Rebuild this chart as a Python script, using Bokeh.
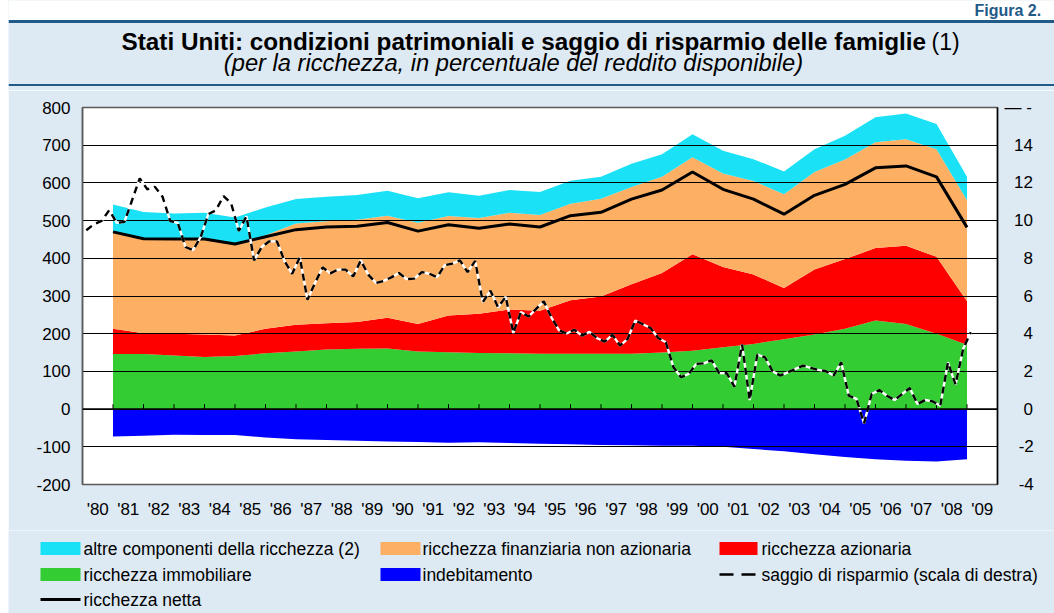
from bokeh.plotting import figure
from bokeh.layouts import column, row
from bokeh.models import (Range1d, LinearAxis, FixedTicker, ColumnDataSource, Span, Spacer)
from bokeh.core.properties import value
from bokeh.embed import file_html
from bokeh.resources import INLINE

# ---------------- data ----------------
years = list(range(1980, 2009))  # end-of-year observations
immobiliare = [146, 146, 142, 138, 141, 148, 153, 158, 160, 161, 153, 151, 149, 148, 147,
               147, 147, 147, 150, 155, 164, 173, 185, 198, 213, 235, 226, 200, 171]
azionaria = [67, 55, 58, 60, 54, 65, 71, 70, 71, 81, 73, 97, 104, 116, 114,
             142, 152, 184, 211, 256, 213, 184, 136, 172, 185, 192, 207, 204, 115]
fin_non_azionaria = [255, 249, 249, 252, 241, 248, 268, 270, 271, 271, 268, 264, 254, 257, 254,
                     256, 259, 258, 255, 257, 248, 248, 249, 259, 264, 281, 283, 285, 268]
altre_componenti = [75, 73, 70, 71, 72, 74, 65, 65, 66, 66, 65, 63, 59, 60, 61,
                    61, 58, 62, 60, 61, 60, 58, 60, 60, 63, 66, 68, 67, 62]
indebitamento = [-73, -71, -68, -69, -69, -75, -80, -82, -84, -86, -87, -89, -88, -90, -92,
                 -93, -95, -96, -97, -97, -100, -106, -112, -120, -127, -133, -137, -139, -133]
ricchezza_netta = [470, 452, 451, 451, 438, 457, 476, 483, 485, 495, 472, 489, 480, 491, 483,
                   513, 522, 557, 581, 629, 583, 557, 517, 567, 596, 640, 645, 616, 482]

# quarterly saving rate, 1980Q1 - 2009Q1 (right scale)
saggio_risparmio = [
    9.49, 9.81, 9.98, 10.55,
    9.88, 9.93, 11.08, 12.24,
    11.66, 11.79, 11.26, 9.98,
    9.88, 8.60, 8.43, 9.13,
    10.34, 10.55, 11.30, 10.91,
    9.45, 10.23, 7.89, 8.60,
    8.90, 8.90, 7.85, 7.18,
    8.05, 5.80, 6.70, 7.52,
    7.20, 7.40, 7.40, 7.04,
    7.89, 7.12, 6.69, 6.80,
    6.99, 7.22, 6.90, 6.92,
    7.27, 7.18, 7.00, 7.63,
    7.72, 7.89, 7.27, 7.86,
    5.68, 6.28, 5.40, 5.96,
    4.04, 5.15, 4.91, 5.32,
    5.72, 4.86, 4.18, 4.01,
    4.21, 3.90, 4.10, 3.76,
    3.58, 3.94, 3.37, 3.73,
    4.70, 4.50, 4.30, 3.77,
    3.55, 2.22, 1.69, 1.87,
    2.40, 2.43, 2.59, 1.91,
    1.90, 1.19, 3.43, 0.48,
    2.89, 2.75, 2.01, 1.78,
    1.95, 2.13, 2.31, 2.19,
    2.08, 2.01, 1.78, 2.48,
    0.71, 0.54, -0.76, 0.80,
    1.01, 0.71, 0.48, 0.80,
    1.12, 0.27, 0.48, 0.41,
    0.18, 2.48, 1.30, 3.20,
    4.08,
]

x_tick_labels = ["'80", "'81", "'82", "'83", "'84", "'85", "'86", "'87", "'88", "'89",
                 "'90", "'91", "'92", "'93", "'94", "'95", "'96", "'97", "'98", "'99",
                 "'00", "'01", "'02", "'03", "'04", "'05", "'06", "'07", "'08", "'09"]
left_ticks = [-200, -100, 0, 100, 200, 300, 400, 500, 600, 700, 800]
left_tick_labels = ["-200", "-100", "0", "100", "200", "300", "400", "500", "600", "700", "800"]
right_ticks = [-4, -2, 0, 2, 4, 6, 8, 10, 12, 14, 16]
right_tick_labels = ["-4", "-2", "0", "2", "4", "6", "8", "10", "12", "14", "\u2014\u00a0-"]

title_text = "Stati Uniti: condizioni patrimoniali e saggio di risparmio delle famiglie"
title_note = "(1)"
subtitle_text = "(per la ricchezza, in percentuale del reddito disponibile)"
figure_tag = "Figura 2."
legend_labels = ["altre componenti della ricchezza (2)", "ricchezza finanziaria non azionaria",
                 "ricchezza azionaria", "ricchezza immobiliare", "indebitamento",
                 "saggio di risparmio (scala di destra)", "ricchezza netta"]

# ---------------- styling ----------------
FONT = "Liberation Sans"
BG = "#DDE9F3"
RULE = "#1F5A88"
CYAN = "#1AE1F6"
ORANGE = "#FDB064"
RED = "#FF0000"
GREEN = "#33CC33"
BLUE = "#0000FF"
NB = "\u00a0"

W = 1046             # content width (page x 8 .. 1054)
H_HEAD, H_MAIN, H_FOOT = 90, 440, 83


def pad_right_label(s):
    # right-align the right-axis labels (label block starts 7px after the axis)
    if s.startswith("\u2014"):
        return s
    n = {1: 4, 2: 2}.get(len(s), 2)
    if s.startswith("-"):
        n = 3
    return NB * n + s


def deco_fig(h, y_top):
    f = figure(width=W, height=h, output_backend="svg", toolbar_location=None, title=None,
               x_range=Range1d(8, 8 + W), y_range=Range1d(y_top + h, y_top),
               min_border=0, x_axis_location=None, y_axis_location=None,
               background_fill_color=BG, border_fill_color=BG, outline_line_color=None,
               frame_align=False)
    f.grid.visible = False
    return f


def txt(f, s, x, y, size, style="normal", align="left", baseline="alphabetic", color="black"):
    f.text(x=[x], y=[y], text=[s], text_font=value(FONT), text_font_size=value(size),
           text_font_style=style, text_align=align, text_baseline=baseline, text_color=color)


# ---------------- header ----------------
head = deco_fig(H_HEAD, 0)
head.quad(left=[8], right=[8 + W], top=[0], bottom=[19.5], color="white", line_color=None)
head.quad(left=[8], right=[8 + W], top=[19.5], bottom=[22.5], color=RULE, line_color=None)
head.quad(left=[8], right=[8 + W], top=[83.5], bottom=[85.5], color=RULE, line_color=None)
txt(head, figure_tag, 974, 10, "16px", style="bold", color=RULE, baseline="middle")
txt(head, title_text, 121, 41, "24.3px", style="bold")
txt(head, title_note, 931, 41, "23px")
txt(head, subtitle_text, 513, 62, "23.7px", style="italic", align="center")

# ---------------- main chart ----------------
X0, X1, Y0, Y1 = 1980, 2010, -200, 800
p = figure(width=W, height=H_MAIN, output_backend="svg", toolbar_location=None, title=None,
           x_range=Range1d(X0, X1), y_range=Range1d(Y0, Y1),
           min_border_left=74, min_border_right=W - 989, min_border_top=17,
           min_border_bottom=H_MAIN - 394, background_fill_color="white",
           border_fill_color=BG, outline_line_color="#5a5a5a", outline_line_width=1.5,
           frame_align=False)
p.extra_y_ranges = {"right": Range1d(-4, 16)}

xpos = [y + 1 for y in years]  # plotted at year end
src = ColumnDataSource(dict(x=xpos, immobiliare=immobiliare, azionaria=azionaria,
                            fin=fin_non_azionaria, altre=altre_componenti,
                            debt=indebitamento, net=ricchezza_netta))
areas = p.varea_stack(stackers=["immobiliare", "azionaria", "fin", "altre"], x="x",
                      color=[GREEN, RED, ORANGE, CYAN], source=src)
for r in areas:
    r.level = "image"
rd = p.varea(x="x", y1=0, y2="debt", source=src, color=BLUE)
rd.level = "image"

p.xgrid.visible = False
p.ygrid.ticker = FixedTicker(ticks=left_ticks)
p.ygrid.grid_line_color = "black"
p.ygrid.grid_line_width = 1
p.ygrid.level = "underlay"

p.add_layout(Span(location=0, dimension="width", line_color="black", line_width=1.6))
p.segment(x0="x", y0=0, x1="x", y1=13, source=src, line_color="black", line_width=1)

p.line(x="x", y="net", source=src, line_color="black", line_width=3)

tq = [1980.125 + 0.25 * i for i in range(len(saggio_risparmio))]
ssrc = ColumnDataSource(dict(t=tq, s=saggio_risparmio))
p.line(x="t", y="s", source=ssrc, y_range_name="right", line_color="white", line_width=2.4)
p.line(x="t", y="s", source=ssrc, y_range_name="right", line_color="black",
       line_width=2.4, line_dash="7 5")

ya = p.yaxis[0]
ya.ticker = FixedTicker(ticks=left_ticks)
ya.major_label_overrides = {t: s for t, s in zip(left_ticks, left_tick_labels)}
ya.major_label_text_font = FONT
ya.major_label_text_font_size = "17px"
ya.major_label_text_color = "black"
ya.major_tick_line_color = None
ya.minor_tick_line_color = None
ya.major_tick_out = 0
ya.major_tick_in = 0
ya.axis_line_color = "#5a5a5a"
ya.axis_line_width = 1.5
ya.major_label_standoff = 12

xa = p.xaxis[0]
xa.ticker = FixedTicker(ticks=[X0 + i + 0.5 for i in range(len(x_tick_labels))])
xa.major_label_overrides = {X0 + i + 0.5: lab for i, lab in enumerate(x_tick_labels)}
xa.major_label_text_font = FONT
xa.major_label_text_font_size = "17px"
xa.major_label_text_color = "black"
xa.major_tick_line_color = None
xa.minor_tick_line_color = None
xa.major_tick_out = 0
xa.major_tick_in = 0
xa.axis_line_color = None
xa.major_label_standoff = 15

ra = LinearAxis(y_range_name="right", ticker=FixedTicker(ticks=right_ticks),
                major_label_overrides={t: pad_right_label(s)
                                       for t, s in zip(right_ticks, right_tick_labels)})
ra.major_label_text_font = FONT
ra.major_label_text_font_size = "17px"
ra.major_label_text_color = "black"
ra.major_tick_line_color = None
ra.minor_tick_line_color = None
ra.major_tick_out = 0
ra.major_tick_in = 0
ra.axis_line_color = "black"
ra.axis_line_width = 1.5
ra.major_label_standoff = 7
p.add_layout(ra, "right")

# ---------------- legend (footer) ----------------
foot = deco_fig(H_FOOT, 530)
rows_y = [548, 574, 599]
cols_x = [40, 380, 719]
text_x = [83, 422, 761]
swatch_w = [40, 40, 38]
fills = [CYAN, ORANGE, RED, GREEN, BLUE]
for k, col in enumerate(fills):
    r, c = divmod(k, 3)
    foot.quad(left=[cols_x[c]], right=[cols_x[c] + swatch_w[c]], top=[rows_y[r] - 6.5],
              bottom=[rows_y[r] + 6.5], color=col, line_color=None)
foot.segment(x0=[719, 741], y0=[rows_y[1]] * 2, x1=[733, 755], y1=[rows_y[1]] * 2,
             line_color="black", line_width=2.6)
foot.segment(x0=[40], y0=[rows_y[2]], x1=[80], y1=[rows_y[2]], line_color="black",
             line_width=3)
for k, lab in enumerate(legend_labels):
    r, c = divmod(k, 3)
    txt(foot, lab, text_x[c], rows_y[r], "17.5px", baseline="middle")

layout = row(Spacer(width=8, height=H_HEAD + H_MAIN + H_FOOT),
             column(head, p, foot, spacing=0), spacing=0)

open("out.html", "w").write(file_html(layout, INLINE))
